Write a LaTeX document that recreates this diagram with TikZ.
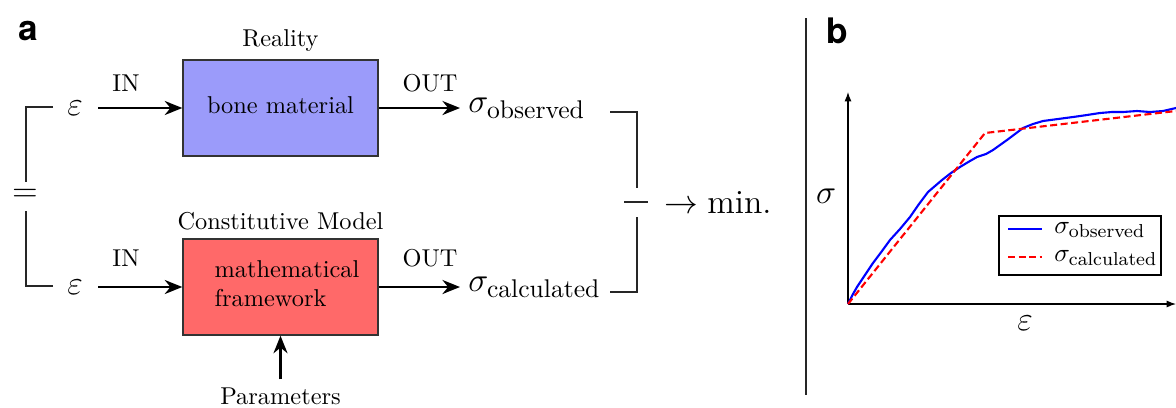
\documentclass[tikz,border=0pt]{standalone}
\usepackage{amsmath}
\usepackage{fontspec}
\usetikzlibrary{arrows.meta,positioning}
\newfontfamily\panelfont{TeX Gyre Heros}
\definecolor{bonefill}{RGB}{155,155,250}
\definecolor{modelfill}{RGB}{255,105,105}
\tikzset{
  block/.style={draw=black!80,line width=0.6pt,minimum width=2.925cm,minimum height=1.44cm},
  flow/.style={line width=1pt,-{Stealth[length=7.5pt,width=6pt]}},
  bracket/.style={line width=0.6pt,black!85},
  math/.style={font=\fontsize{14.4}{17}\selectfont},
  sig/.style={font=\fontsize{15.6}{18}\selectfont},
  panel/.style={font=\panelfont\fontsize{15}{18}\selectfont\bfseries},
  axis/.style={line width=0.5pt,-{Latex[length=4pt,width=3pt]}},
  obs/.style={blue,line width=0.9pt},
  calc/.style={red,line width=0.9pt,dash pattern=on 3pt off 1.5pt},
  legtext/.style={font=\fontsize{11.4}{13}\selectfont}
}
\begin{document}
\begin{tikzpicture}[x=0.015cm,y=-0.015cm,font=\fontsize{10.4}{12.4}\selectfont]
\useasboundingbox (0,0) rectangle (1176,407);
\clip (0,0) rectangle (1176,407);

\node[panel] (la) at (28,31) {a};

\node[block,fill=bonefill] (bone) at (280.5,108) {};
\node (bonetext) at (280.5,105) {bone material};
\node[block,fill=modelfill] (model) at (280.5,287) {};
\node[align=left] (modeltext) at (287,284) {mathematical\\framework};
\node[above=0pt of bone] (real) {Reality};
\node[above=0pt of model] (cm) {Constitutive Model};

\node[math] (eps1) at (75,108) {$\varepsilon$};
\node[math] (eps2) at (75,287) {$\varepsilon$};
\draw[flow,shorten <=3pt] (eps1) -- (bone);
\draw[flow,shorten <=3pt] (eps2) -- (model);
\node (in1) at (126,83) {IN};
\node (in2) at (126,258) {IN};

\node[sig,anchor=west] (sobs) at (460,108) {$\sigma_{\text{observed}}$};
\node[sig,anchor=west] (scalc) at (460,287) {$\sigma_{\text{calculated}}$};
\draw[flow] (bone) -- (sobs);
\draw[flow] (model) -- (scalc);
\node (out1) at (430,83) {OUT};
\node (out2) at (430,258) {OUT};

\node (par) at (280.5,396) {Parameters};
\draw[flow] (par) -- (model);

\coordinate (lt) at (26,107);
\coordinate (lb) at (26,286);
\draw[bracket] (53,107) -- (lt) -- (26,182);
\draw[bracket] (53,286) -- (lb) -- (26,211);
\node[math] (eq) at (25,195) {$=$};

\coordinate (rt) at (637,112);
\coordinate (rb) at (637,292);
\draw[bracket] (610,112) -- (rt) -- (637,188);
\draw[bracket] (610,292) -- (rb) -- (637,217);
\draw[bracket] (624,202) -- (648,202);
\node[math,anchor=west] (min) at (656,202) {$\rightarrow \text{min.}$};

\draw[bracket] (806,18) -- (806,395);

\node[panel] (lbl) at (837,31) {b};
\coordinate (o) at (848,304);
\draw[axis] (o) -- (848,92);
\draw[axis] (o) -- (1176,304);
\node[math] (ylab) at (826,196) {$\sigma$};
\node[math] (xlab) at (1025,323) {$\varepsilon$};

\draw[obs] plot coordinates {(848,304) (853,294) (857,287) (865,275) (873,263) (882,251) (890,240) (900,229)
  (910,217) (919,204) (928,192) (942,180) (951,173) (960,167) (970,161) (977,157) (986,154) (993,150)
  (1000,145) (1007,140) (1015,134) (1023,128) (1033,124) (1043,121) (1058,119) (1073,117) (1087,115)
  (1100,113) (1112,112) (1123,112) (1137,111) (1150,112) (1163,111) (1176,108)};
\draw[calc] (o) -- (985,133) -- (1176,111);

\draw[line width=0.6pt] (999,216) rectangle (1161,275);
\draw[obs] (1008,229) -- (1042,229);
\node[legtext,anchor=west] (lobs) at (1046,230) {$\sigma_{\text{observed}}$};
\draw[calc] (1008,257) -- (1042,257);
\node[legtext,anchor=west] (lcalc) at (1046,258) {$\sigma_{\text{calculated}}$};
\end{tikzpicture}
\end{document}
